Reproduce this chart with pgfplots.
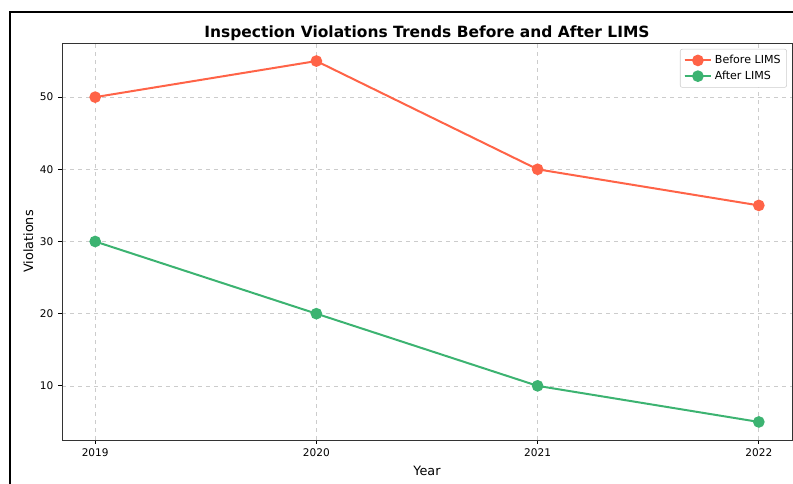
\documentclass[border=0pt]{standalone}
\usepackage{fontspec}
\setmainfont{DejaVu Sans}
\usepackage{pgfplots}
\pgfplotsset{compat=1.18}
\definecolor{before}{HTML}{FF6347}
\definecolor{after}{HTML}{3CB371}
\definecolor{gridc}{HTML}{CCCCCC}
\begin{document}
\begin{tikzpicture}
\useasboundingbox (0pt,0pt) rectangle (594.75pt,363pt);
\draw[line width=1.5pt,black] (7.5pt,0pt) -- (7.5pt,354pt) -- (594.75pt,354pt);
\begin{axis}[
  at={(46.5pt,33pt)}, anchor=south west,
  width=547.5pt, height=297.75pt, scale only axis,
  xmin=2018.85, xmax=2022.15, ymin=2.5, ymax=57.5,
  xtick={2019,2020,2021,2022}, ytick={10,20,30,40,50},
  /pgf/number format/1000 sep={},
  /pgf/number format/assume math mode=true,
  tick label style={font=\fontsize{7.9}{9}\selectfont},
  tick align=outside, tick pos=left,
  major tick length=3pt,
  axis line style={line width=0.6pt, black!80},
  every tick/.style={black, line width=0.6pt},
  grid=major, grid style={dashed, gridc, line width=0.5pt},
  title={\bfseries Inspection Violations Trends Before and After LIMS},
  title style={font=\fontsize{11.6}{13}\selectfont, yshift=-7.5pt},
  xlabel={Year}, ylabel={Violations},
  label style={font=\fontsize{9.6}{11}\selectfont},
  ylabel style={yshift=-2pt},
  legend style={font=\fontsize{8.3}{10}\selectfont, draw=gridc, rounded corners=1.5pt, inner sep=2.5pt, at={(0.993,0.985)}, anchor=north east},
  legend cell align=left,
  legend image code/.code={\draw[#1] (0pt,0pt) -- (20pt,0pt); \draw[#1, mark repeat=2, mark phase=2] plot coordinates {(0pt,0pt) (10pt,0pt) (20pt,0pt)};},
]
\addplot[before, line width=1.5pt, mark=*, mark size=3.6pt] coordinates {(2019,50) (2020,55) (2021,40) (2022,35)};
\addlegendentry{Before LIMS}
\addplot[after, line width=1.5pt, mark=*, mark size=3.6pt] coordinates {(2019,30) (2020,20) (2021,10) (2022,5)};
\addlegendentry{After LIMS}
\end{axis}
\end{tikzpicture}
\end{document}
